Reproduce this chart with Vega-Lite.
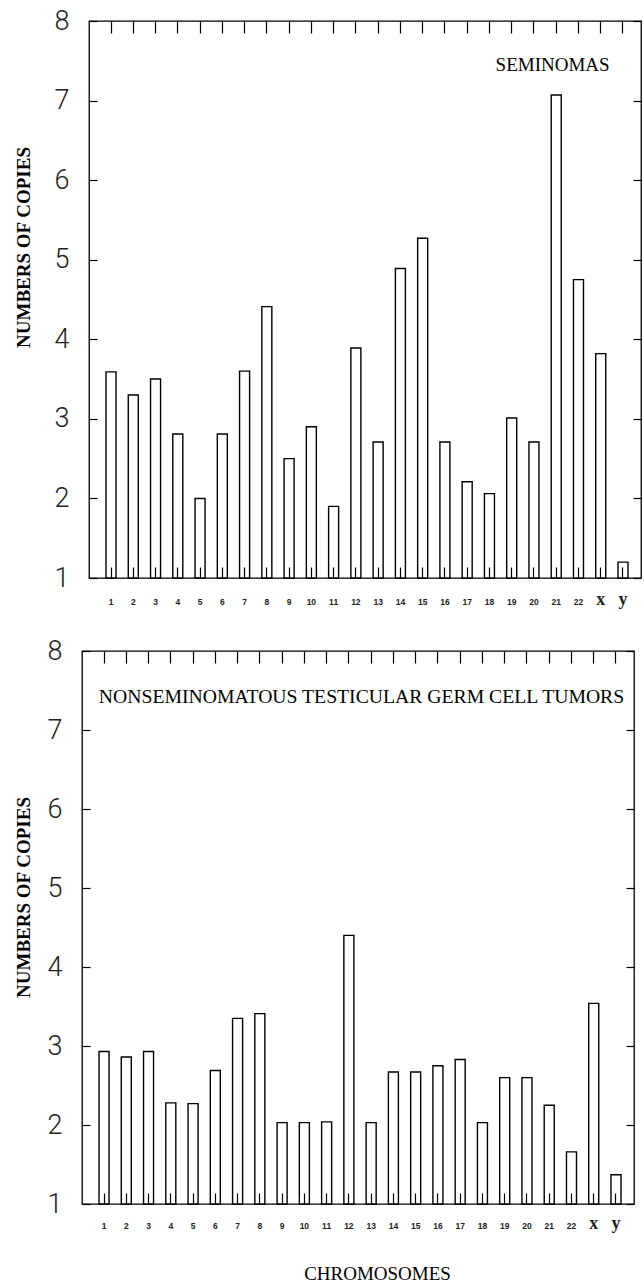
{
  "$schema": "https://vega.github.io/schema/vega-lite/v6.json",
  "background": "white",
  "padding": {"left": 6, "top": 6, "right": 0, "bottom": 0},
  "spacing": 27,
  "config": {
    "view": {"stroke": "black", "strokeWidth": 1.3},
    "axis": {"domain": false, "grid": false, "tickColor": "black", "tickWidth": 1.2, "labelColor": "#222", "titleColor": "black"}
  },
  "datasets": {
    "sem": [
      {"chromosome": "1", "copies": 3.59}, {"chromosome": "2", "copies": 3.3}, {"chromosome": "3", "copies": 3.5},
      {"chromosome": "4", "copies": 2.81}, {"chromosome": "5", "copies": 2.0}, {"chromosome": "6", "copies": 2.81},
      {"chromosome": "7", "copies": 3.6}, {"chromosome": "8", "copies": 4.41}, {"chromosome": "9", "copies": 2.5},
      {"chromosome": "10", "copies": 2.9}, {"chromosome": "11", "copies": 1.9}, {"chromosome": "12", "copies": 3.89},
      {"chromosome": "13", "copies": 2.71}, {"chromosome": "14", "copies": 4.89}, {"chromosome": "15", "copies": 5.27},
      {"chromosome": "16", "copies": 2.71}, {"chromosome": "17", "copies": 2.21}, {"chromosome": "18", "copies": 2.06},
      {"chromosome": "19", "copies": 3.01}, {"chromosome": "20", "copies": 2.71}, {"chromosome": "21", "copies": 7.07},
      {"chromosome": "22", "copies": 4.75}, {"chromosome": "x", "copies": 3.82}, {"chromosome": "y", "copies": 1.2}
    ],
    "nst": [
      {"chromosome": "1", "copies": 2.93}, {"chromosome": "2", "copies": 2.86}, {"chromosome": "3", "copies": 2.93},
      {"chromosome": "4", "copies": 2.28}, {"chromosome": "5", "copies": 2.27}, {"chromosome": "6", "copies": 2.69},
      {"chromosome": "7", "copies": 3.35}, {"chromosome": "8", "copies": 3.41}, {"chromosome": "9", "copies": 2.03},
      {"chromosome": "10", "copies": 2.03}, {"chromosome": "11", "copies": 2.04}, {"chromosome": "12", "copies": 4.4},
      {"chromosome": "13", "copies": 2.03}, {"chromosome": "14", "copies": 2.67}, {"chromosome": "15", "copies": 2.67},
      {"chromosome": "16", "copies": 2.75}, {"chromosome": "17", "copies": 2.83}, {"chromosome": "18", "copies": 2.03},
      {"chromosome": "19", "copies": 2.6}, {"chromosome": "20", "copies": 2.6}, {"chromosome": "21", "copies": 2.25},
      {"chromosome": "22", "copies": 1.66}, {"chromosome": "x", "copies": 3.54}, {"chromosome": "y", "copies": 1.37}
    ],
    "blank": [{"k": 0}]
  },
  "vconcat": [
    {"spacing": 0, "hconcat": [
    {"width": 1, "height": 1, "data": {"name": "blank"}, "mark": {"type": "point", "opacity": 0}, "encoding": {}, "view": {"stroke": null}},
    {
      "width": 552,
      "height": 557,
      "title": {"text": "SEMINOMAS", "anchor": "end", "offset": -83, "dx": -32, "font": "Liberation Serif", "fontSize": 19, "fontWeight": "normal", "color": "black", "baseline": "alphabetic"},
      "data": {"name": "sem"},
      "layer": [
        {
          "mark": {"type": "bar", "fill": "white", "stroke": "black", "strokeWidth": 1.4},
          "encoding": {
            "x": {"field": "chromosome", "type": "nominal", "sort": null,
              "scale": {"paddingInner": 0.55, "paddingOuter": 0.674, "align": 0.567},
              "axis": {"title": null, "orient": "bottom", "zindex": 1, "labelAngle": 0, "tickSize": -11, "labelPadding": 37, "labelBaseline": "alphabetic",
                "labelFont": {"condition": {"test": "datum.value == 'x' || datum.value == 'y'", "value": "Liberation Serif"}, "value": "Liberation Sans"},
                "labelFontSize": {"condition": {"test": "datum.value == 'x' || datum.value == 'y'", "value": 18}, "value": 8.5},
                "labelFontWeight": "bold"}},
            "y": {"field": "copies", "type": "quantitative",
              "scale": {"domain": [1, 8], "zero": false, "nice": false},
              "axis": {"title": "NUMBERS OF COPIES", "zindex": 1, "values": [1, 2, 3, 4, 5, 6, 7, 8], "tickSize": -8, "labelPadding": 28,
                "labelFont": "Roboto", "labelFontWeight": 300, "labelFontSize": 27,
                "titleFont": "Liberation Serif", "titleFontWeight": "bold", "titleFontSize": 19, "titlePadding": 21, "titleY": 226}},
            "y2": {"datum": 1}
          }
        },
        {
          "mark": {"type": "bar", "opacity": 0},
          "encoding": {
            "x": {"field": "chromosome", "type": "nominal", "sort": null,
              "axis": {"title": null, "orient": "top", "labels": false, "tickSize": -12}},
            "y": {"field": "copies", "type": "quantitative",
              "axis": {"title": null, "orient": "right", "labels": false, "values": [1, 2, 3, 4, 5, 6, 7, 8], "tickSize": -8}},
            "y2": {"datum": 1}
          }
        }
      ],
      "resolve": {"axis": {"x": "independent", "y": "independent"}}
    }]},
    {"spacing": 0, "hconcat": [
    {"width": 1, "height": 1, "data": {"name": "blank"}, "mark": {"type": "point", "opacity": 0}, "encoding": {}, "view": {"stroke": null}},
    {
      "width": 552,
      "height": 553,
      "title": {"text": "NONSEMINOMATOUS TESTICULAR GERM CELL TUMORS", "anchor": "middle", "offset": -86, "dx": 3.5, "font": "Liberation Serif", "fontSize": 19.7, "fontWeight": "normal", "color": "black", "baseline": "alphabetic"},
      "data": {"name": "nst"},
      "layer": [
        {
          "mark": {"type": "bar", "fill": "white", "stroke": "black", "strokeWidth": 1.4},
          "encoding": {
            "x": {"field": "chromosome", "type": "nominal", "sort": null,
              "scale": {"paddingInner": 0.55, "paddingOuter": 0.674, "align": 0.567},
              "axis": {"title": "CHROMOSOMES", "orient": "bottom", "zindex": 1, "labelAngle": 0, "tickSize": -11, "labelPadding": 35, "labelBaseline": "alphabetic",
                "labelFont": {"condition": {"test": "datum.value == 'x' || datum.value == 'y'", "value": "Liberation Serif"}, "value": "Liberation Sans"},
                "labelFontSize": {"condition": {"test": "datum.value == 'x' || datum.value == 'y'", "value": 18}, "value": 8.5},
                "labelFontWeight": "bold",
                "titleFont": "Liberation Serif", "titleFontWeight": "normal", "titleFontSize": 19, "titlePadding": 32, "titleX": 295}},
            "y": {"field": "copies", "type": "quantitative",
              "scale": {"domain": [1, 8], "zero": false, "nice": false},
              "axis": {"title": "NUMBERS OF COPIES", "zindex": 1, "values": [1, 2, 3, 4, 5, 6, 7, 8], "tickSize": -8, "labelPadding": 28,
                "labelFont": "Roboto", "labelFontWeight": 300, "labelFontSize": 27,
                "titleFont": "Liberation Serif", "titleFontWeight": "bold", "titleFontSize": 19, "titlePadding": 14, "titleY": 246}},
            "y2": {"datum": 1}
          }
        },
        {
          "mark": {"type": "bar", "opacity": 0},
          "encoding": {
            "x": {"field": "chromosome", "type": "nominal", "sort": null,
              "axis": {"title": null, "orient": "top", "labels": false, "tickSize": -12}},
            "y": {"field": "copies", "type": "quantitative",
              "axis": {"title": null, "orient": "right", "labels": false, "values": [1, 2, 3, 4, 5, 6, 7, 8], "tickSize": -8}},
            "y2": {"datum": 1}
          }
        }
      ],
      "resolve": {"axis": {"x": "independent", "y": "independent"}}
    }]}
  ]
}
